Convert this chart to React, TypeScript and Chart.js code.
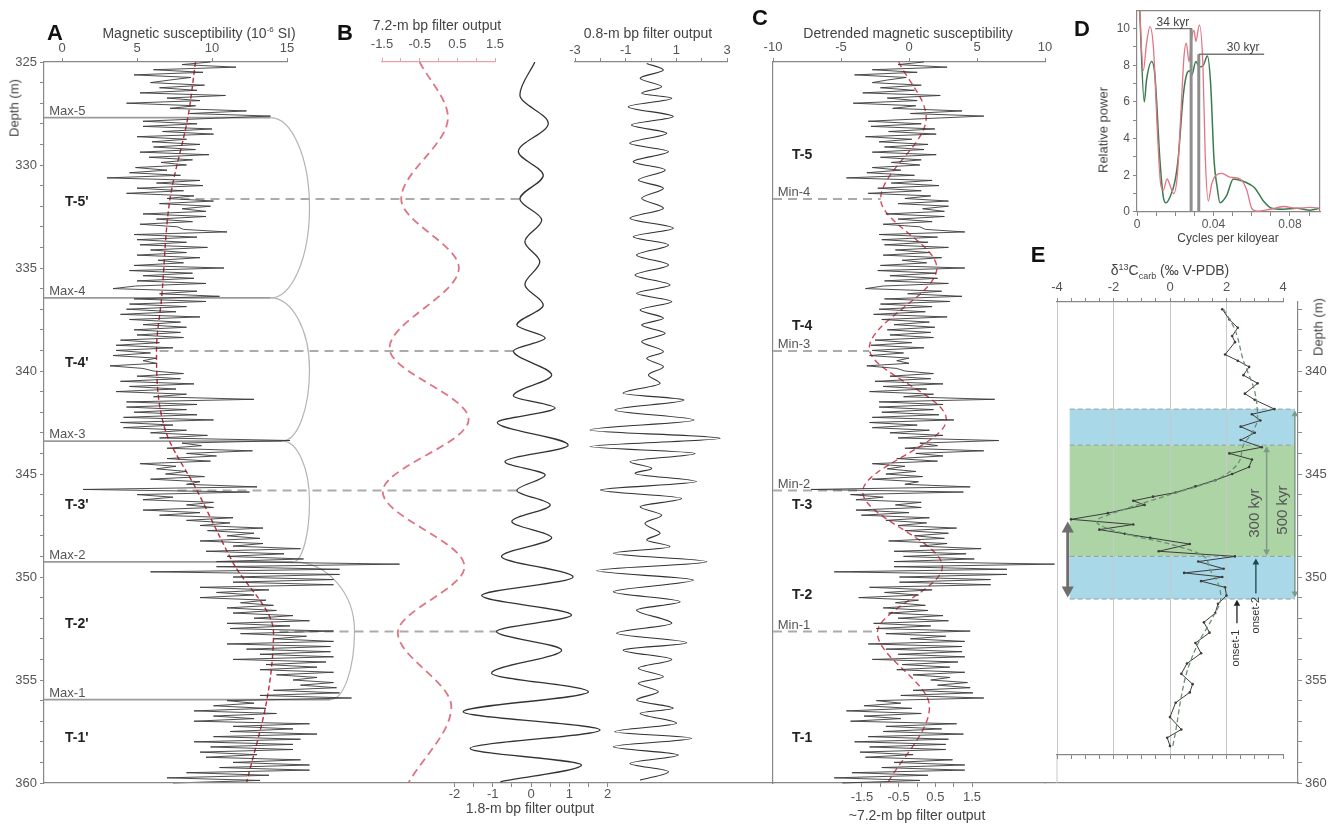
import React, { useEffect, useRef } from 'react';
import { Chart, registerables } from 'chart.js';
Chart.register(...registerables);

const FONT = '"Liberation Sans", Arial, Helvetica, sans-serif';
Chart.defaults.font.family = FONT;
Chart.defaults.color = '#555';

const W = 1333;
const H = 825;

// ---------------- DATA ----------------
// A: magnetic susceptibility (10^-6 SI), sampled every 0.125 m from 325 m
const MS_START = 325;
const MS_STEP = 0.125;
const magSus = [
  9.9, 8.0, 11.6, 6.1, 9.4, 4.8, 8.6, 7.2,
  5.9, 9.5, 6.5, 9.0, 5.2, 10.9, 7.0, 9.2,
  4.3, 8.9, 7.2, 12.3, 8.5, 13.9, 9.5, 5.4,
  9.0, 5.4, 10.0, 6.7, 10.1, 5.0, 8.3, 6.0,
  9.2, 6.1, 8.9, 5.2, 9.8, 5.8, 8.7, 6.6,
  8.3, 4.9, 7.0, 4.5, 7.9, 3.0, 9.2, 6.3,
  9.4, 5.0, 8.1, 4.3, 8.8, 7.0, 10.1, 6.5,
  9.9, 8.0, 9.6, 5.4, 9.6, 6.3, 8.7, 5.2,
  7.7, 8.1, 11.0, 4.8, 9.0, 5.0, 8.3, 5.2,
  9.7, 5.9, 8.3, 5.0, 9.2, 6.4, 8.1, 4.8,
  10.8, 4.5, 8.7, 5.4, 8.8, 5.0, 9.6, 4.9,
  3.4, 9.0, 6.5, 10.5, 4.8, 9.6, 4.5, 8.3,
  4.3, 7.6, 3.9, 9.2, 4.5, 7.9, 5.4, 8.3,
  4.8, 7.9, 5.0, 8.1, 3.9, 6.5, 3.6, 7.4,
  3.6, 5.9, 3.4, 6.3, 5.4, 6.3, 3.2, 5.4,
  6.1, 8.1, 5.0, 7.9, 3.9, 8.8, 4.5, 7.6,
  3.6, 8.3, 6.1, 12.8, 4.3, 9.0, 4.3, 8.3,
  4.8, 9.0, 4.1, 10.1, 3.9, 7.4, 4.1, 8.3,
  5.9, 9.7, 6.5, 15.2, 8.0, 9.3, 7.0, 12.7,
  8.3, 10.3, 7.0, 9.9, 5.2, 7.6, 6.3, 8.3,
  6.9, 9.5, 5.9, 9.2, 8.3, 13.0, 1.4, 12.5,
  5.0, 7.4, 5.4, 10.1, 8.3, 10.1, 5.4, 9.2,
  6.5, 11.4, 8.3, 11.2, 9.2, 13.4, 9.7, 12.8,
  11.0, 13.2, 9.2, 13.4, 11.4, 15.9, 9.6, 14.8,
  11.0, 16.1, 10.3, 22.5, 10.3, 18.5, 5.9, 18.5,
  11.4, 18.1, 11.4, 18.1, 9.2, 13.8, 10.3, 12.8,
  9.2, 13.6, 11.9, 14.1, 11.0, 14.3, 11.4, 15.4,
  12.8, 16.5, 11.0, 15.2, 11.2, 18.1, 11.9, 16.3,
  14.1, 18.1, 11.0, 17.9, 12.3, 17.9, 13.2, 18.1,
  11.4, 17.6, 13.6, 17.0, 13.2, 18.1, 14.3, 17.0,
  15.4, 18.1, 15.9, 18.3, 14.1, 18.5, 13.2, 19.3,
  11.0, 12.8, 10.1, 13.6, 8.8, 14.3, 10.1, 12.8,
  8.8, 16.5, 11.4, 15.4, 11.2, 17.0, 10.1, 15.9,
  8.8, 15.4, 9.9, 15.4, 9.2, 13.0, 9.6, 15.9,
  11.4, 16.5, 10.5, 16.5, 8.3, 13.8, 7.0, 13.2,
  7.4,
];

// C: detrended magnetic susceptibility, same sampling
const detrendedMS = [
  1.1, -0.8, 2.8, -2.7, 0.6, -4.0, -0.2, -1.6,
  -2.7, 0.9, -2.1, 0.4, -3.4, 2.3, -1.6, 0.6,
  -4.1, 0.5, -1.2, 3.9, 0.1, 5.5, 1.1, -3.0,
  0.9, -2.8, 1.9, -1.5, 2.0, -3.2, 0.2, -2.2,
  1.4, -1.8, 1.1, -2.7, 2.0, -2.1, 0.9, -1.3,
  0.8, -2.7, -0.6, -3.1, 0.4, -4.6, 1.7, -1.3,
  2.2, -2.3, 0.9, -3.0, 1.6, -0.3, 2.9, -0.8,
  2.9, 1.0, 2.6, -1.7, 2.6, -0.8, 1.7, -1.9,
  0.8, 1.2, 4.1, -2.2, 2.1, -2.0, 1.4, -1.8,
  2.9, -1.0, 1.5, -1.9, 2.4, -0.5, 1.3, -2.1,
  4.1, -2.3, 2.0, -1.4, 2.1, -1.8, 2.9, -1.9,
  -3.2, 2.4, -0.1, 3.9, -1.8, 3.0, -2.1, 1.7,
  -2.2, 1.2, -2.6, 2.8, -2.0, 1.5, -1.1, 1.9,
  -1.6, 1.6, -1.4, 1.8, -2.5, 0.2, -2.8, 1.1,
  -2.7, -0.4, -2.9, 0.0, -0.9, 0.0, -3.1, -0.9,
  -0.3, 1.8, -1.4, 1.6, -2.5, 2.5, -1.9, 1.3,
  -2.9, 1.8, -0.4, 6.3, -2.2, 2.5, -2.2, 1.8,
  -2.0, 2.2, -2.7, 3.3, -2.9, 0.6, -2.7, 1.5,
  -1.4, 2.5, -0.8, 6.6, 0.8, 2.1, -0.3, 5.5,
  0.5, 2.5, -0.9, 2.1, -2.7, -0.3, -1.6, 0.5,
  -1.7, 1.0, -2.7, 0.7, -0.3, 4.5, -7.2, 4.0,
  -4.3, -1.9, -3.9, 0.9, -1.0, 0.9, -3.9, 0.0,
  -3.5, 1.5, -1.7, 1.3, -0.8, 3.5, -0.3, 2.9,
  0.4, 2.6, -1.5, 2.8, 0.8, 5.3, -1.1, 4.2,
  -0.4, 4.8, -1.1, 10.7, -1.1, 7.2, -5.5, 7.2,
  -0.7, 6.0, -0.7, 6.0, -2.9, 1.7, -1.8, 0.7,
  -3.7, 0.7, -1.0, 1.2, -1.9, 1.4, -1.5, 2.5,
  -0.8, 2.9, -2.6, 1.6, -2.4, 4.5, -1.7, 2.7,
  0.1, 4.1, -3.0, 3.9, -1.7, 3.9, -0.8, 4.1,
  -2.7, 3.6, -0.5, 3.0, -0.9, 4.1, 0.3, 3.0,
  1.6, 4.3, 2.1, 4.5, 0.3, 4.7, -0.6, 5.5,
  -2.4, -0.6, -3.3, 0.2, -4.6, 0.9, -3.3, -0.6,
  -4.3, 3.5, -1.7, 2.4, -1.9, 4.0, -3.0, 2.9,
  -4.0, 2.7, -2.9, 2.7, -3.6, 0.3, -3.2, 3.2,
  -1.1, 4.1, -2.0, 4.1, -4.2, 1.4, -5.5, 0.8,
  -4.9,
];

// A: long-term trend (red dashed)
const trendDepth = [325, 327.65, 331.65, 336.46, 339.0, 342.9, 345.8, 349.3, 352.7, 355.8, 360];
const trendValue = [8.9, 8.4, 7.2, 6.64, 6.3, 6.9, 9.0, 11.4, 14.1, 13.7, 12.3];

// B/C: 7.2-m bandpass filter output
const f72Depth = [325.0, 327.7, 331.65, 335.0, 338.9, 342.35, 345.86, 349.5, 352.7, 356.3, 360.0];
const f72Value = [-0.5, 0.25, -0.99, 0.54, -1.3, 0.8, -1.48, 0.69, -1.08, 0.34, -0.8];

// B: 1.8-m bandpass filter output
const f18Depth = [325.0, 326.6, 327.98, 329.35, 330.5, 331.65, 332.67, 333.72, 334.7, 335.8, 336.8, 337.77, 338.4, 339.03, 340.2, 341.2, 341.8, 342.5, 343.6, 344.4, 345.05, 345.8, 346.5, 347.3, 348.1, 349.0, 350.0, 350.9, 351.85, 352.65, 353.55, 354.67, 355.57, 356.54, 357.43, 358.32, 359.13, 359.94];
const f18Value = [0.1, -0.29, 0.45, -0.33, 0.32, -0.29, 0.28, -0.16, 0.23, -0.16, 0.32, -0.37, 0.37, -0.46, 0.54, -0.46, 0.63, -0.88, 0.97, -0.68, 0.37, -0.37, 0.5, -0.5, 0.54, -0.77, 1.1, -1.29, 1.06, -0.9, 0.8, -1.03, 1.5, -1.77, 1.8, -1.59, 1.32, -0.8];

// B: 0.8-m bandpass filter output
const f08Depth = [325.07, 325.39, 325.79, 326.2, 326.52, 326.76, 327.17, 327.65, 328.06, 328.46, 328.95, 329.35, 329.84, 330.24, 330.73, 331.13, 331.62, 332.1, 332.59, 333.07, 333.48, 333.88, 334.37, 334.85, 335.34, 335.83, 336.23, 336.63, 337.04, 337.44, 337.77, 338.17, 338.57, 339.06, 339.38, 339.79, 340.19, 340.6, 341.08, 341.41, 341.89, 342.38, 342.86, 343.27, 343.67, 344.0, 344.4, 344.73, 344.97, 345.37, 345.78, 346.19, 346.59, 347.0, 347.4, 347.88, 348.2, 348.53, 348.85, 349.26, 349.69, 350.15, 350.72, 351.2, 351.6, 352.25, 352.73, 353.19, 353.55, 354.0, 354.43, 354.84, 355.16, 355.57, 355.97, 356.37, 356.62, 357.1, 357.51, 357.83, 358.24, 358.64, 359.05, 359.45, 359.86];
const f08Value = [-0.17, 0.49, -0.43, 0.42, -0.37, 0.82, -0.9, 0.88, -0.77, 0.62, -0.84, 0.69, -0.7, 0.56, -0.5, 0.49, -0.37, 0.49, -0.83, 0.88, -0.7, 0.69, -0.57, 0.69, -0.63, 0.75, -0.57, 0.82, -0.43, 0.49, -0.37, 0.56, -0.37, 0.49, -0.17, 0.49, -0.1, 0.36, -1.1, 1.3, -1.43, 1.7, -2.41, 2.73, -2.41, 1.74, -0.83, 0.03, -0.63, 1.8, -2.0, 1.21, -0.43, 0.42, -0.24, 0.36, -0.17, 0.75, -1.49, 2.2, -2.15, 1.67, -1.49, 1.15, -0.57, 0.82, -1.36, 1.41, -1.1, 0.82, -0.5, 0.49, -0.5, 0.29, -0.57, 0.88, -0.43, 1.01, -1.43, 1.61, -1.49, 1.08, -0.83, 0.69, -0.43];

// markers
const maxDepths = [327.7, 336.45, 343.4, 349.27, 355.95];
const maxLabels = ['Max-5', 'Max-4', 'Max-3', 'Max-2', 'Max-1'];
const midDepths = [331.65, 339.03, 345.8, 352.65];
const minLabels = ['Min-4', 'Min-3', 'Min-2', 'Min-1'];
const minFilterValue = [-0.99, -1.3, -1.48, -1.08];
const cycleLabelsA = ["T-5'", "T-4'", "T-3'", "T-2'", "T-1'"];
const cycleDepthsA = [331.8, 339.6, 346.5, 352.3, 357.8];
const cycleLabelsC = ['T-5', 'T-4', 'T-3', 'T-2', 'T-1'];
const cycleDepthsC = [329.5, 337.8, 346.5, 350.9, 357.8];

// D: power spectra
const specRedFreq = [0.0012, 0.0033, 0.005, 0.0068, 0.0087, 0.0107, 0.0124, 0.0138, 0.0157, 0.0178, 0.0192, 0.0211, 0.023, 0.0246, 0.0258, 0.0272, 0.0286, 0.0298, 0.0308, 0.0326, 0.0345, 0.0357, 0.0373, 0.039, 0.0413, 0.0443, 0.0487, 0.0539, 0.0574, 0.06, 0.0626, 0.0696, 0.0766, 0.0835, 0.0905, 0.0957];
const specRedPow = [11.5, 7.7, 9.2, 10.1, 8.8, 4.3, 1.5, 1.2, 1.8, 1.3, 1.0, 2.0, 5.5, 8.5, 9.2, 8.2, 9.5, 9.9, 9.3, 10.2, 7.9, 3.0, 0.6, 1.5, 2.0, 2.1, 1.9, 1.8, 1.2, 0.2, 0.05, 0.15, 0.3, 0.2, 0.25, 0.2];
const specGreenFreq = [0.0012, 0.0038, 0.005, 0.0077, 0.0094, 0.012, 0.0138, 0.0152, 0.0172, 0.0198, 0.0216, 0.0243, 0.0263, 0.0277, 0.0286, 0.0308, 0.0326, 0.0347, 0.0368, 0.0385, 0.0403, 0.042, 0.0434, 0.0469, 0.0504, 0.0548, 0.0591, 0.0617, 0.0661, 0.0705, 0.0766, 0.0835, 0.0905, 0.0957];
const specGreenPow = [11.5, 6.0, 7.2, 8.2, 7.4, 2.8, 0.8, 0.5, 0.8, 1.65, 3.0, 6.45, 7.6, 7.7, 7.45, 8.2, 7.9, 8.0, 8.5, 7.0, 2.8, 1.3, 0.5, 0.9, 1.8, 1.7, 1.5, 1.3, 0.6, 0.2, 0.15, 0.2, 0.1, 0.2];
const peak34Freq = 0.0283;
const peak34Pow = 10;
const peak30Freq = 0.0323;
const peak30Pow = 8.6;

// E: carbon isotopes
const d13cDepth = [337.0, 337.5, 337.9, 338.3, 338.6, 339.2, 339.5, 339.8, 340.2, 340.6, 341.1, 341.4, 341.85, 342.1, 342.4, 342.7, 343.0, 343.35, 343.7, 344.0, 344.3, 344.66, 345.0, 345.3, 345.6, 345.9, 346.1, 346.3, 346.5, 346.9, 347.2, 347.45, 347.7, 347.9, 348.1, 348.4, 348.75, 349.0, 349.25, 349.6, 349.8, 350.0, 350.2, 350.5, 350.9, 351.3, 351.75, 352.2, 352.7, 353.2, 353.7, 354.2, 354.7, 355.2, 355.6, 356.1, 356.8, 357.4, 357.8, 358.2];
const d13cValue = [1.85, 2.1, 2.4, 2.2, 2.3, 1.95, 2.4, 2.8, 2.6, 3.1, 2.65, 3.0, 3.7, 2.9, 3.2, 2.5, 3.0, 2.5, 3.25, 2.1, 2.9, 2.8, 2.2, 1.6, 0.9, 0.2, -0.6, -1.3, -0.9, -2.2, -3.5, -1.3, -2.5, -1.6, -0.7, 0.7, -0.4, 2.3, 1.0, 1.9, 0.5, 1.85, 1.1, 1.95, 2.0, 1.7, 1.6, 1.2, 1.4, 0.9, 1.1, 0.6, 0.4, 0.8, 0.7, 0.2, 0.0, 0.4, -0.1, 0.0];
const d13cSmoothDepth = [337.0, 338.0, 339.5, 341.0, 342.3, 343.0, 343.6, 344.5, 345.3, 346.0, 346.8, 347.3, 347.9, 348.4, 349.0, 349.6, 350.3, 351.0, 352.0, 353.2, 354.6, 355.8, 357.5, 358.2];
const d13cSmoothValue = [1.9, 2.3, 2.6, 3.0, 3.1, 2.9, 2.6, 2.4, 1.6, 0.0, -1.8, -2.6, -1.6, 0.0, 1.2, 1.4, 1.7, 1.8, 1.5, 1.0, 0.6, 0.4, 0.2, 0.1];
const bandEdges = [341.85, 343.6, 349.0, 351.07];

// tick labels / positions
const depthTicks = Array.from({ length: 36 }, (_, i) => 325 + i);
const eDepthTicks = Array.from({ length: 24 }, (_, i) => 337 + i);
const msTicks = [0, 5, 10, 15];
const f72Ticks = [-1.5, -1, -0.5, 0, 0.5, 1, 1.5];
const f72Labels = [-1.5, -0.5, 0.5, 1.5];
const f18Ticks = [-2, -1.5, -1, -0.5, 0, 0.5, 1, 1.5, 2];
const f08Ticks = [-3, -2, -1, 0, 1, 2, 3];
const detTicks = [-10, -5, 0, 5, 10];
const freqTicks = [0, 0.01, 0.02, 0.03, 0.04, 0.05, 0.06, 0.07, 0.08, 0.09];
const freqLabels = [0, 0.04, 0.08];
const powTicks = [0, 1, 2, 3, 4, 5, 6, 7, 8, 9, 10];
const d13cTicks = [-4, -3.5, -3, -2.5, -2, -1.5, -1, -0.5, 0, 0.5, 1, 1.5, 2, 2.5, 3, 3.5, 4];
const d13cGrid = [-4, -2, 0, 2];

// ---------------- HELPERS ----------------
const AXH = 30; // reserved height of a labelled horizontal axis
const AXW = 44; // reserved width of a labelled vertical axis

function frame(box: any, sides: any = {}) {
  return {
    responsive: false,
    maintainAspectRatio: false,
    animation: false,
    devicePixelRatio: 1,
    events: [],
    layout: {
      padding: {
        left: box.l - (sides.left || 0),
        top: box.t - (sides.top || 0),
        right: W - box.r - (sides.right || 0),
        bottom: H - box.b - (sides.bottom || 0),
      },
    },
    plugins: { legend: { display: false }, tooltip: { enabled: false }, title: { display: false } },
  };
}

function tickAxis(horizontal: boolean, position: string, min: number, max: number, vals: number[], label: (v: number) => string, o: any = {}) {
  const size = o.noLabels ? 0 : o.box ?? (horizontal ? AXH : AXW);
  return {
    type: 'linear',
    position,
    min,
    max,
    reverse: !!o.reverse,
    display: true,
    afterFit: horizontal ? (s: any) => { s.height = size; } : (s: any) => { s.width = size; },
    afterBuildTicks: (s: any) => { s.ticks = vals.map((v) => ({ value: v })); },
    ticks: {
      display: !o.noLabels,
      autoSkip: false,
      maxRotation: 0,
      minRotation: 0,
      padding: o.pad ?? 3,
      color: o.labelColor ?? '#555',
      font: { size: o.size ?? 13, family: FONT },
      callback: (v: any) => label(Number(v)),
    },
    grid: {
      display: true,
      drawOnChartArea: !!o.gridColor,
      color: o.gridColor ?? '#ddd',
      lineWidth: 1,
      drawTicks: true,
      tickLength: o.tl ?? 4,
      tickColor: o.color ?? '#888',
      tickWidth: 1,
    },
    border: { display: true, color: o.color ?? '#888', width: o.bw ?? 1.2 },
  };
}

function borderAxis(horizontal: boolean, position: string, min: number, max: number, o: any = {}) {
  return {
    type: 'linear',
    position,
    min,
    max,
    reverse: !!o.reverse,
    display: true,
    afterFit: horizontal ? (s: any) => { s.height = 0; } : (s: any) => { s.width = 0; },
    ticks: { display: false },
    grid: { display: true, drawOnChartArea: false, drawTicks: false },
    border: { display: true, color: o.color ?? '#888', width: o.bw ?? 1.2 },
  };
}

function hiddenAxis(min: number, max: number, reverse = true) {
  return { type: 'linear', display: false, min, max, reverse };
}

function pairs(xs: number[], ys: number[]) {
  return xs.map((x, i) => ({ x, y: ys[i] }));
}

function ds(data: any[], o: any) {
  const d: any = {
    data,
    showLine: true,
    pointRadius: o.pr ?? 0,
    pointHoverRadius: 0,
    pointBorderWidth: 0,
    pointBackgroundColor: o.c,
    borderColor: o.c,
    backgroundColor: o.c,
    borderWidth: o.w ?? 1,
    borderDash: o.dash ?? [],
    tension: 0,
    fill: false,
    xAxisID: o.xa ?? 'x',
    yAxisID: 'y',
  };
  if (o.mono) d.cubicInterpolationMode = 'monotone';
  if (o.noclip) d.clip = false;
  return d;
}

function deco(items: any[]) {
  const run = (chart: any, pre: boolean) => {
    const ctx = chart.ctx;
    for (const it of items) {
      if (!!it.pre !== pre) continue;
      const xs = chart.scales[it.xs || 'x'];
      const ys = chart.scales[it.ys || 'y'];
      const X = (v: number) => xs.getPixelForValue(v);
      const Y = (v: number) => ys.getPixelForValue(v);
      ctx.save();
      if (it.t === 'line') {
        ctx.strokeStyle = it.c;
        ctx.lineWidth = it.w || 1;
        ctx.setLineDash(it.dash || []);
        ctx.beginPath();
        it.pts.forEach((p: number[], i: number) => {
          if (i) ctx.lineTo(X(p[0]), Y(p[1]));
          else ctx.moveTo(X(p[0]), Y(p[1]));
        });
        ctx.stroke();
      } else if (it.t === 'rect') {
        const x1 = X(it.x1), x2 = X(it.x2), y1 = Y(it.y1), y2 = Y(it.y2);
        ctx.fillStyle = it.fill;
        ctx.fillRect(Math.min(x1, x2), Math.min(y1, y2), Math.abs(x2 - x1), Math.abs(y2 - y1));
      } else if (it.t === 'text') {
        ctx.font = it.font;
        ctx.fillStyle = it.c;
        ctx.textAlign = it.align || 'left';
        ctx.textBaseline = it.base || 'alphabetic';
        ctx.translate(X(it.x), Y(it.y));
        if (it.rot) ctx.rotate((it.rot * Math.PI) / 180);
        ctx.fillText(it.s, 0, 0);
      } else if (it.t === 'bracket') {
        const x1 = X(it.x1), y1 = Y(it.y1), xb = X(it.xb), x2 = X(it.x2), y2 = Y(it.y2);
        const ym = (y1 + y2) / 2;
        const k = 0.5523;
        ctx.strokeStyle = it.c;
        ctx.lineWidth = it.w || 1;
        ctx.beginPath();
        ctx.moveTo(x1, y1);
        ctx.bezierCurveTo(x1 + k * (xb - x1), y1, xb, ym - k * (ym - y1), xb, ym);
        ctx.bezierCurveTo(xb, ym + k * (y2 - ym), x2 + k * (xb - x2), y2, x2, y2);
        ctx.stroke();
      } else if (it.t === 'arrow') {
        const x = X(it.x), y1 = Y(it.y1), y2 = Y(it.y2);
        const dir = y2 > y1 ? 1 : -1;
        const h = it.head;
        ctx.strokeStyle = it.c;
        ctx.fillStyle = it.c;
        ctx.lineWidth = it.w;
        ctx.beginPath();
        ctx.moveTo(x, y1 + dir * h * 0.8);
        ctx.lineTo(x, it.both ? y2 - dir * h * 0.8 : y2);
        ctx.stroke();
        const head = (ty: number, d: number) => {
          ctx.beginPath();
          ctx.moveTo(x, ty);
          ctx.lineTo(x - h * 0.55, ty + d * h);
          ctx.lineTo(x + h * 0.55, ty + d * h);
          ctx.closePath();
          ctx.fill();
        };
        head(y1, dir);
        if (it.both) head(y2, -dir);
      }
      ctx.restore();
    }
  };
  return {
    id: 'deco',
    beforeDatasetsDraw: (chart: any) => run(chart, true),
    afterDatasetsDraw: (chart: any) => run(chart, false),
  };
}

// ---------------- CHART CONFIGS ----------------
const A_BOX = { l: 44, t: 62, r: 287, b: 783 };
const B1_BOX = { l: 382, t: 62, r: 495, b: 783 };
const B2_BOX = { l: 44, t: 62, r: 773, b: 783 };
const B3_BOX = { l: 575, t: 62, r: 727, b: 783 };
const C_BOX = { l: 773, t: 62, r: 1045, b: 783 };
const D_BOX = { l: 1137, t: 10, r: 1320, b: 212 };
const E2_BOX = { l: 1045, t: 302, r: 1298, b: 783 };
const E1_BOX = { l: 1057, t: 302, r: 1283, b: 755 };

const maxLineEnd = [13.9, 13.9, 14.7, 15.4, 17.9];
const arcBulge = [16.5, 16.5, 16.5, 19.5];
const connStart = [7.9, 6.5, 7.7, 14.5];
const connEnd = [30.5, 30.1, 30.3, 29.0];

function buildConfigs() {
  const msData = magSus.map((v, i) => ({ x: v, y: MS_START + i * MS_STEP }));
  const detData = detrendedMS.map((v, i) => ({ x: v, y: MS_START + i * MS_STEP }));

  const aItems: any[] = [];
  maxDepths.forEach((d, i) => {
    aItems.push({ t: 'line', pre: true, pts: [[-1.2, d], [maxLineEnd[i], d]], c: '#9a9a9a', w: 1.8 });
    aItems.push({ t: 'text', x: -0.85, y: d - 0.13, s: maxLabels[i], font: `13px ${FONT}`, c: '#555' });
    if (i < maxDepths.length - 1) {
      aItems.push({ t: 'bracket', pre: true, x1: maxLineEnd[i], y1: d, xb: arcBulge[i], x2: maxLineEnd[i + 1], y2: maxDepths[i + 1], c: '#b4b4b4', w: 1.2 });
    }
  });
  midDepths.forEach((d, i) => {
    aItems.push({ t: 'line', pre: true, pts: [[connStart[i], d], [connEnd[i], d]], c: '#ababab', w: 2, dash: [9, 6] });
  });
  cycleLabelsA.forEach((s, i) => {
    aItems.push({ t: 'text', x: 0.2, y: cycleDepthsA[i], s, font: `bold 14px ${FONT}`, c: '#222', base: 'middle' });
  });

  const chartA = {
    type: 'scatter',
    data: {
      datasets: [
        ds(msData, { c: '#3a3a3a', w: 0.9, noclip: true }),
        ds(pairs(trendValue, trendDepth), { c: '#c42a3c', w: 1.4, dash: [5, 3], mono: true, noclip: true }),
      ],
    },
    options: {
      ...frame(A_BOX, { top: AXH, left: AXW }),
      indexAxis: 'y',
      scales: {
        x: tickAxis(true, 'top', -1.2, 15, msTicks, (v) => String(v), { pad: 2 }),
        y: tickAxis(false, 'left', 325, 360, depthTicks, (v) => (v % 5 === 0 ? String(v) : ''), { reverse: true, pad: 3 }),
      },
    },
    plugins: [deco(aItems)],
  };

  const chartB1 = {
    type: 'scatter',
    data: { datasets: [ds(pairs(f72Value, f72Depth), { c: '#e07482', w: 1.8, dash: [8, 5], mono: true })] },
    options: {
      ...frame(B1_BOX, { top: AXH }),
      indexAxis: 'y',
      scales: {
        x: tickAxis(true, 'top', -1.5, 1.5, f72Ticks, (v) => (f72Labels.includes(v) ? String(v) : ''), { color: '#e8a2ad', pad: 6 }),
        y: hiddenAxis(325, 360),
      },
    },
  };

  const chartB2 = {
    type: 'scatter',
    data: { datasets: [ds(pairs(f18Value, f18Depth), { c: '#333', w: 1.3, mono: true })] },
    options: {
      ...frame(B2_BOX, { bottom: AXH }),
      indexAxis: 'y',
      scales: {
        x: tickAxis(true, 'bottom', -12.715, 6.318, f18Ticks, (v) => (Number.isInteger(v) ? String(v) : ''), { pad: 0 }),
        y: hiddenAxis(325, 360),
      },
    },
  };

  const chartB3 = {
    type: 'scatter',
    data: { datasets: [ds(pairs(f08Value, f08Depth), { c: '#333', w: 1.1, mono: true })] },
    options: {
      ...frame(B3_BOX, { top: AXH }),
      indexAxis: 'y',
      scales: {
        x: tickAxis(true, 'top', -3, 3, f08Ticks, (v) => (Math.abs(v) % 2 === 1 ? String(v) : ''), { pad: 0 }),
        y: hiddenAxis(325, 360),
      },
    },
  };

  const cItems: any[] = [];
  midDepths.forEach((d, i) => {
    cItems.push({ t: 'line', pre: true, xs: 'x2', pts: [[-3.924, d], [minFilterValue[i], d]], c: '#ababab', w: 2, dash: [9, 6] });
    cItems.push({ t: 'text', x: -9.65, y: d - 0.13, s: minLabels[i], font: `13px ${FONT}`, c: '#555' });
  });
  cycleLabelsC.forEach((s, i) => {
    cItems.push({ t: 'text', x: -8.6, y: cycleDepthsC[i], s, font: `bold 14px ${FONT}`, c: '#222', base: 'middle' });
  });

  const chartC = {
    type: 'scatter',
    data: {
      datasets: [
        ds(detData, { c: '#3a3a3a', w: 0.9, noclip: true }),
        ds(pairs(f72Value, f72Depth), { c: '#d9465a', w: 1.4, dash: [6, 4], mono: true, xa: 'x2' }),
      ],
    },
    options: {
      ...frame(C_BOX, { top: AXH, bottom: AXH }),
      indexAxis: 'y',
      scales: {
        x: tickAxis(true, 'top', -10, 10, detTicks, (v) => String(v), { pad: 3 }),
        x2: tickAxis(true, 'bottom', -3.924, 3.488, f72Ticks, (v) => (f72Labels.includes(v) ? String(v) : ''), { pad: 3 }),
        y: borderAxis(false, 'left', 325, 360, { reverse: true }),
      },
    },
    plugins: [deco(cItems)],
  };

  const dItems: any[] = [
    { t: 'line', pts: [[peak34Freq, 0], [peak34Freq, peak34Pow]], c: '#8e8e8e', w: 3 },
    { t: 'line', pts: [[0.0095, peak34Pow], [peak34Freq + 0.0005, peak34Pow]], c: '#777', w: 1.3 },
    { t: 'line', pts: [[peak30Freq, 0], [peak30Freq, peak30Pow]], c: '#8e8e8e', w: 3 },
    { t: 'line', pts: [[peak30Freq, peak30Pow], [0.0665, peak30Pow]], c: '#777', w: 1.3 },
    { t: 'text', x: 0.0188, y: peak34Pow + 0.15, s: '34 kyr', font: `12px ${FONT}`, c: '#444', align: 'center' },
    { t: 'text', x: 0.0555, y: peak30Pow + 0.15, s: '30 kyr', font: `12px ${FONT}`, c: '#444', align: 'center' },
  ];

  const chartD = {
    type: 'scatter',
    data: {
      datasets: [
        ds(pairs(specRedFreq, specRedPow), { c: '#e37483', w: 1.3, mono: true }),
        ds(pairs(specGreenFreq, specGreenPow), { c: '#3b7b4e', w: 1.5, mono: true }),
      ],
    },
    options: {
      ...frame(D_BOX, { bottom: AXH, left: AXW }),
      scales: {
        x: tickAxis(true, 'bottom', 0, 0.0957, freqTicks, (v) => (freqLabels.includes(v) ? String(v) : ''), { pad: 1, size: 12 }),
        y: tickAxis(false, 'left', 0, 11, powTicks, (v) => (v % 2 === 0 ? String(v) : ''), { pad: 3, size: 12 }),
        x2: borderAxis(true, 'top', 0, 1),
        y2: borderAxis(false, 'right', 0, 1),
      },
    },
    plugins: [deco(dItems)],
  };

  const e2Items: any[] = [
    { t: 'rect', pre: true, x1: -3.55, x2: 4.42, y1: bandEdges[0], y2: bandEdges[1], fill: '#a9d9e8' },
    { t: 'rect', pre: true, x1: -3.55, x2: 4.42, y1: bandEdges[1], y2: bandEdges[2], fill: '#acd4a5' },
    { t: 'rect', pre: true, x1: -3.55, x2: 4.42, y1: bandEdges[2], y2: bandEdges[3], fill: '#a9d9e8' },
    ...bandEdges.map((d) => ({ t: 'line', pre: true, pts: [[-3.55, d], [4.42, d]], c: '#8fa0a4', w: 1, dash: [5, 3] })),
    { t: 'line', pre: true, pts: [[-4, 358.64], [-4, 360]], c: '#c9c9c9', w: 1 },
    { t: 'arrow', x: -3.62, y1: 347.3, y2: 351.0, both: true, c: '#6e6e6e', w: 3, head: 11 },
    { t: 'arrow', x: 4.42, y1: 341.9, y2: 351.0, both: true, c: '#7f9a86', w: 1.5, head: 6 },
    { t: 'text', x: 3.98, y: 346.75, s: '500 kyr', font: `15px ${FONT}`, c: '#555', align: 'center', base: 'middle', rot: -90 },
  ];

  const chartE2 = {
    type: 'scatter',
    data: { datasets: [] },
    options: {
      ...frame(E2_BOX, { right: 35 }),
      scales: {
        x: borderAxis(true, 'bottom', -4.425, 4.531),
        y: tickAxis(false, 'right', 336.65, 360, eDepthTicks, (v) => (v % 5 === 0 ? String(v) : ''), { reverse: true, pad: 3, box: 35 }),
      },
    },
    plugins: [deco(e2Items)],
  };

  const e1Items: any[] = [
    { t: 'arrow', x: 3.42, y1: 343.65, y2: 348.95, both: true, c: '#7f9a86', w: 1.5, head: 6 },
    { t: 'text', x: 3.0, y: 346.9, s: '300 kyr', font: `15px ${FONT}`, c: '#555', align: 'center', base: 'middle', rot: -90 },
    { t: 'arrow', x: 2.37, y1: 351.1, y2: 352.25, c: '#222', w: 1.3, head: 6 },
    { t: 'text', x: 2.33, y: 353.45, s: 'onset-1', font: `11px ${FONT}`, c: '#333', align: 'center', base: 'middle', rot: -90 },
    { t: 'arrow', x: 3.04, y1: 349.1, y2: 350.8, c: '#1d4650', w: 1.3, head: 6 },
    { t: 'text', x: 3.05, y: 351.85, s: 'onset-2', font: `11px ${FONT}`, c: '#333', align: 'center', base: 'middle', rot: -90 },
  ];

  const chartE1 = {
    type: 'scatter',
    data: {
      datasets: [
        ds(pairs(d13cSmoothValue, d13cSmoothDepth), { c: '#6d8f74', w: 1.3, dash: [5, 3], mono: true }),
        ds(pairs(d13cValue, d13cDepth), { c: '#3c3c3c', w: 1, pr: 1.3 }),
      ],
    },
    options: {
      ...frame(E1_BOX, { top: AXH }),
      indexAxis: 'y',
      scales: {
        x: tickAxis(true, 'top', -4, 4, d13cTicks, (v) => (v % 2 === 0 ? String(v) : ''), {
          pad: 3,
          gridColor: (c: any) => (c.tick && d13cGrid.includes(c.tick.value) ? '#c9c9c9' : 'rgba(0,0,0,0)'),
        }),
        x2: tickAxis(true, 'bottom', -4, 4, d13cTicks, () => '', { noLabels: true }),
        y: hiddenAxis(336.65, 358.64),
      },
    },
    plugins: [deco(e1Items)],
  };

  return [chartA, chartB1, chartB2, chartB3, chartC, chartD, chartE2, chartE1];
}

// ---------------- COMPONENT ----------------
const N_CHARTS = 8;

function Txt(props: { x: number; y: number; size?: number; bold?: boolean; rot?: number; color?: string; children: any }) {
  const { x, y, size = 14, bold = false, rot = 0, color = '#444', children } = props;
  return (
    <div
      style={{
        position: 'absolute',
        left: x,
        top: y,
        transform: `translate(-50%, -50%) rotate(${rot}deg)`,
        fontSize: size,
        fontWeight: bold ? 700 : 400,
        color,
        whiteSpace: 'nowrap',
        lineHeight: 1,
        fontFamily: FONT,
      }}
    >
      {children}
    </div>
  );
}

export default function App() {
  const refs = useRef<(HTMLCanvasElement | null)[]>([]);
  useEffect(() => {
    const cfgs = buildConfigs();
    const charts = cfgs.map((cfg, i) => new Chart(refs.current[i] as HTMLCanvasElement, cfg as any));
    return () => {
      charts.forEach((c) => c.destroy());
    };
  }, []);

  return (
    <div style={{ position: 'absolute', left: 0, top: 0, width: W, height: H, background: '#fff', overflow: 'hidden', fontFamily: FONT }}>
      {Array.from({ length: N_CHARTS }).map((_, i) => (
        <canvas
          key={i}
          ref={(el) => { refs.current[i] = el; }}
          width={W}
          height={H}
          style={{ position: 'absolute', left: 0, top: 0 }}
        />
      ))}
      <Txt x={55} y={33} size={22} bold color="#111">A</Txt>
      <Txt x={199} y={33}>Magnetic susceptibility (10<sup style={{ fontSize: 8 }}>-6</sup> SI)</Txt>
      <Txt x={14} y={108} size={13} rot={-90}>Depth (m)</Txt>
      <Txt x={345} y={33} size={22} bold color="#111">B</Txt>
      <Txt x={437} y={25}>7.2-m bp filter output</Txt>
      <Txt x={648} y={33}>0.8-m bp filter output</Txt>
      <Txt x={530} y={808}>1.8-m bp filter output</Txt>
      <Txt x={760} y={18} size={22} bold color="#111">C</Txt>
      <Txt x={908} y={33}>Detrended magnetic susceptibility</Txt>
      <Txt x={917} y={815}>~7.2-m bp filter output</Txt>
      <Txt x={1082} y={29} size={22} bold color="#111">D</Txt>
      <Txt x={1103} y={130} size={13} rot={-90}>Relative power</Txt>
      <Txt x={1228} y={238} size={12}>Cycles per kiloyear</Txt>
      <Txt x={1038} y={255} size={22} bold color="#111">E</Txt>
      <Txt x={1170} y={272}>δ<sup style={{ fontSize: 9 }}>13</sup>C<sub style={{ fontSize: 9 }}>carb</sub> (‰ V-PDB)</Txt>
      <Txt x={1318} y={327} size={13} rot={-90}>Depth (m)</Txt>
    </div>
  );
}
